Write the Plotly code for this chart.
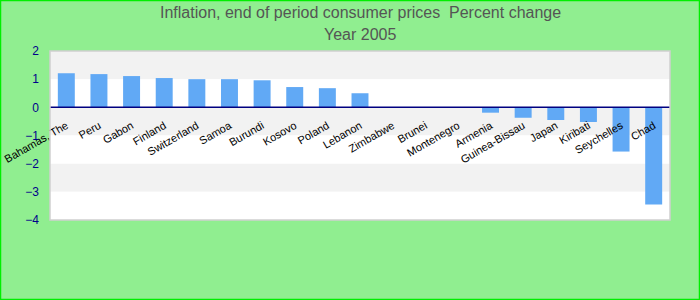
import plotly.graph_objects as go

countries = ["Bahamas, The", "Peru", "Gabon", "Finland", "Switzerland", "Samoa", "Burundi",
             "Kosovo", "Poland", "Lebanon", "Zimbabwe", "Brunei", "Montenegro", "Armenia",
             "Guinea-Bissau", "Japan", "Kiribati", "Seychelles", "Chad"]
values = [1.21, 1.18, 1.11, 1.04, 1.0, 1.0, 0.96, 0.72, 0.68, 0.5, 0.0, 0.0, 0.0,
          -0.19, -0.37, -0.45, -0.52, -1.57, -3.45]
y_ticks = [2, 1, 0, -1, -2, -3, -4]
title_lines = ["Inflation, end of period consumer prices  Percent change", "Year 2005"]

W, H = 700, 300
ML, MR, MT, MB = 50, 30, 51, 80
pw, ph = W - ML - MR, H - MT - MB

fig = go.Figure()
fig.add_trace(go.Bar(x=countries, y=values, marker_color="#61a9f5",
                     marker_line_width=0, width=0.52))

shapes = []
for i in range(len(y_ticks) - 1):
    hi, lo = y_ticks[i], y_ticks[i + 1]
    color = "#f2f2f2" if i % 2 == 0 else "#ffffff"
    shapes.append(dict(type="rect", xref="paper", yref="y", x0=0, x1=1, y0=lo, y1=hi,
                       fillcolor=color, line_width=0, layer="below"))
shapes.append(dict(type="line", xref="paper", yref="y", x0=0, x1=1, y0=0, y1=0,
                   line=dict(color="#000080", width=1.5), layer="above"))
shapes.append(dict(type="rect", xref="paper", yref="paper", x0=0, x1=1, y0=0, y1=1,
                   line=dict(color="#d0d0d0", width=1.5), layer="above"))
shapes.append(dict(type="rect", xref="paper", yref="paper",
                   x0=(-ML + 0.5) / pw, x1=(pw + MR - 0.5) / pw,
                   y0=(-MB + 0.5) / ph, y1=(ph + MT - 0.5) / ph,
                   line=dict(color="#00ee00", width=1.5)))

title_font = dict(family="Liberation Sans Narrow, Arial Narrow, sans-serif",
                  size=16, color="#555555")
annotations = []
for k, line in enumerate(title_lines):
    y_px = 13 + 22 * k  # centre of line, from top
    annotations.append(dict(text=line, xref="paper", yref="paper", x=0.5,
                            y=(H - MB - y_px) / ph, xanchor="center", yanchor="middle",
                            showarrow=False, font=title_font))

ymin, ymax = min(y_ticks), max(y_ticks)
fig.update_layout(
    width=W, height=H,
    margin=dict(l=ML, r=MR, t=MT, b=MB, autoexpand=False),
    paper_bgcolor="#90ee90", plot_bgcolor="#ffffff",
    showlegend=False,
    shapes=shapes,
    annotations=annotations,
    font=dict(family="Liberation Sans, Arial, sans-serif"),
    xaxis=dict(showgrid=False, zeroline=False, showline=False, ticks="",
               tickangle=-30, tickfont=dict(size=11, color="#000000"),
               anchor="free", position=(0 - ymin) / (ymax - ymin),
               ticklabelstandoff=9, automargin=False),
    yaxis=dict(range=[ymin, ymax], tickvals=y_ticks, showgrid=False, zeroline=False,
               showline=False, ticks="", tickfont=dict(size=12, color="#00008b"),
               ticklabelstandoff=10, automargin=False),
    bargap=0.48,
)
fig.write_html("out.html")
